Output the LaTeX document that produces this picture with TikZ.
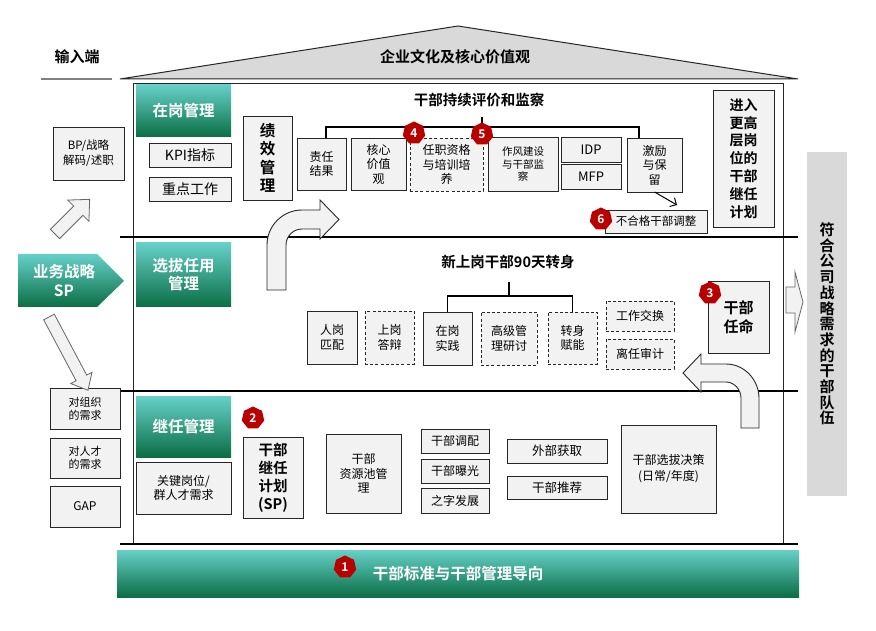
\documentclass[tikz,border=0pt]{standalone}
\usepackage{fontspec}
\setmainfont{Noto Sans CJK SC}[BoldFont={Noto Sans CJK SC Bold}]
\usetikzlibrary{shapes.geometric,arrows.meta,calc}
\definecolor{boxgray}{HTML}{F2F2F2}
\definecolor{roofgray}{HTML}{D9D9D9}
\definecolor{tealtop}{HTML}{66D0C8}
\definecolor{tealbot}{HTML}{0B6E45}
\definecolor{badgered}{HTML}{B80000}
\definecolor{linedark}{HTML}{262626}
\newcommand\myfs[2]{\fontsize{#1}{#2}\selectfont}
\newcommand\bx[7][]{%
  \pgfmathsetmacro\myX{(#3+#5)/2}%
  \pgfmathsetmacro\myY{(#4+#6)/2}%
  \pgfmathsetmacro\myW{#5-#3}%
  \pgfmathsetmacro\myH{#6-#4}%
  \node[gbox,#1,minimum width=\myW pt,minimum height=\myH pt] (#2) at (\myX,\myY) {#7};}
\tikzset{
  gbox/.style={draw=linedark, fill=boxgray, line width=0.9pt, inner sep=0pt, outer sep=0pt, align=center, font=\myfs{12}{14.5}},
  dbox/.style={dashed, dash pattern=on 3pt off 2.2pt},
  hdr/.style={draw=none, top color=tealtop, bottom color=tealbot, text=white, font=\bfseries\myfs{15.5}{18}},
  badge/.style={regular polygon, regular polygon sides=7, fill=badgered, draw=none, text=white, font=\bfseries\myfs{12}{12}, minimum size=23pt, inner sep=0pt},
  sep/.style={line width=2.4pt, black},
  brk/.style={line width=1.5pt, black},
  harrow/.style={draw=linedark, fill=boxgray, line width=0.9pt, line join=miter},
  larrow/.style={draw=gray!80!black, fill=boxgray, line width=0.8pt, line join=miter},
  ttl/.style={font=\bfseries\myfs{14.5}{17}, inner sep=0pt}
}
\begin{document}
\begin{tikzpicture}[x=1pt,y=-1pt]
\useasboundingbox[fill=white] (0,0) rectangle (876,631);

% roof
\draw[fill=roofgray, draw=linedark, line width=1pt] (120,79) -- (458,26) -- (798,79) -- cycle;
\node[ttl, font=\bfseries\myfs{15}{17}] (roof) at (455,57) {企业文化及核心价值观};
\node[ttl, font=\bfseries\myfs{15}{17}] (inp) at (77,57) {输入端};
\draw[line width=2.5pt, gray] (41,79) -- (112,79);

% frame and separators
\draw[line width=1pt, linedark] (133,84) rectangle (783,544);
\draw[sep] (120,237) -- (798,237);
\draw[sep] (120,391) -- (798,391);
\draw[sep] (120,544) -- (798,544);

% headers
\bx[hdr]{h1}{136}{85}{231}{137}{在岗管理}
\bx[hdr]{h2}{136}{243}{231}{307}{选拔任用\\管理}
\bx[hdr]{h3}{136}{396}{231}{457}{继任管理}
\bx[hdr, font=\bfseries\myfs{15.5}{18}]{bar}{117}{550}{799}{597}{干部标准与干部管理导向}
\shade[top color=tealtop, bottom color=tealbot] (18,254) -- (97,254) -- (124,281) -- (97,307) -- (18,307) -- cycle;
\node[text=white, font=\bfseries\myfs{15.5}{19}, align=center, inner sep=0pt] (sp) at (64,281) {业务战略\\SP};

% left column
\bx[font=\myfs{11.5}{15}]{bp}{53}{127}{124}{180}{BP/战略\\解码/述职}
\bx[font=\myfs{11}{13}]{dzz}{50}{388}{120}{429}{对组织\\的需求}
\bx[font=\myfs{11}{13}]{drc}{50}{438}{120}{478}{对人才\\的需求}
\bx{gap}{50}{486}{120}{527}{GAP}
\begin{scope}[shift={(55,234)}, rotate=45]
  \draw[larrow] (0,-6.5) -- (33,-6.5) -- (33,-15) -- (49,0) -- (33,15) -- (33,6.5) -- (0,6.5) -- cycle;
\end{scope}
\begin{scope}[shift={(49,317)}, rotate=-62]
  \draw[larrow] (0,-6) -- (69,-6) -- (69,-12) -- (83,0) -- (69,12) -- (69,6) -- (0,6) -- cycle;
\end{scope}

% row 1
\bx[font=\myfs{14}{16}]{kpi}{149}{143}{231}{167}{KPI指标}
\bx[font=\myfs{14}{16}]{zd}{149}{177}{231}{201}{重点工作}
\bx[font=\bfseries\myfs{15.5}{18.5}]{jx}{243}{116}{292}{200}{绩\\效\\管\\理}
\node[ttl] (t1) at (479,100) {干部持续评价和监察};
\bx[font=\myfs{12}{13.5}]{zr}{297}{138}{346}{190}{责任\\结果}
\bx{hx}{351}{138}{406}{190}{核心\\价值\\观}
\bx[dbox]{rz}{410}{138}{483}{191}{任职资格\\与培训培\\养}
\bx[font=\myfs{10.5}{12.5}]{zf}{488}{137}{558}{191}{作风建设\\与干部监\\察}
\bx[font=\myfs{13}{15}]{idp}{561}{137}{621}{162}{IDP}
\bx[font=\myfs{13}{15}]{mfp}{561}{164}{621}{189}{MFP}
\bx{jl}{627}{138}{682}{192}{激励\\与保\\留}
\bx[font=\myfs{11.5}{13}]{bhg}{605}{210}{707}{233}{不合格干部调整}
\bx[font=\bfseries\myfs{14}{17.8}]{jr}{713}{90}{774}{227}{进入\\更高\\层岗\\位的\\干部\\继任\\计划}
\coordinate (s1) at (482,117);
\coordinate (m1) at (482,127);
\draw[brk] (s1) -- (m1);
\draw[brk] ([xshift=4.5pt]zr.north) |- (m1) -| ([xshift=-15.5pt]jl.north);
\coordinate (ae) at (677,205);
\draw[line width=1pt, -{Straight Barb[length=5pt,width=10pt]}] (jl.south) -- (ae);

% row 2
\node[ttl] (t2) at (508,262) {新上岗干部90天转身};
\bx{rg}{307}{311}{357}{364}{人岗\\匹配}
\bx[dbox]{sg}{365}{311}{414}{364}{上岗\\答辩}
\bx{zg}{423}{312}{472}{365}{在岗\\实践}
\bx[dbox]{gj}{481}{312}{537}{365}{高级管\\理研讨}
\bx[dbox]{zs}{548}{312}{597}{364}{转身\\赋能}
\bx[dbox]{gz}{606}{301}{674}{331}{工作交换}
\bx[dbox]{lr}{606}{339}{674}{369}{离任审计}
\bx[font=\bfseries\myfs{15}{18.5}]{rm}{708}{281}{769}{353}{干部\\任命}
\coordinate (s2) at (509,282);
\coordinate (m2) at (509,296);
\draw[brk] (s2) -- (m2);
\draw[brk] (zg.north) |- (m2) -| (zs.north);

% row 3
\bx{gjg}{136}{462}{231}{514}{关键岗位/\\群人才需求}
\bx[font=\bfseries\myfs{14.5}{18}]{jrjh}{243}{437}{303}{518}{干部\\继任\\计划\\(SP)}
\bx{zyc}{326}{434}{401}{513}{干部\\资源池管\\理}
\bx{tp}{421}{429}{489}{453}{干部调配}
\bx{bg}{421}{459}{489}{483}{干部曝光}
\bx{zzf}{421}{488}{489}{513}{之字发展}
\bx[font=\myfs{12.5}{15}]{wb}{507}{439}{607}{463}{外部获取}
\bx[font=\myfs{12.5}{15}]{tj}{507}{476}{607}{499}{干部推荐}
\bx[font=\myfs{12}{16}]{xb}{621}{425}{716}{513}{干部选拔决策\\(日常/年度)}

% curved hollow arrows
\draw[harrow] (267,290) -- (267,245) .. controls (267,225.7) and (282.7,210) .. (302,210) -- (320,210) -- (320,200) -- (339,219.5) -- (320,239) -- (320,229) -- (302,229) .. controls (293.2,229) and (286,236.2) .. (286,245) -- (286,290) -- cycle;
\draw[harrow] (759,428) -- (759,398) .. controls (759,380.8) and (745.2,364) .. (726,364) -- (701,364) -- (701,354) -- (683,373) -- (701,392) -- (701,382) -- (726,382) .. controls (734.3,382) and (741,389.7) .. (741,398) -- (741,428) -- cycle;

% right side
\draw[draw=gray!80!black, fill=boxgray, line width=0.8pt] (786,287) -- (795,287) -- (795,272) -- (803,302) -- (795,332) -- (795,313) -- (786,313) -- cycle;
\node[fill=roofgray, minimum width=40pt, minimum height=344pt, inner sep=0pt, align=center, font=\bfseries\myfs{15}{15.7}] (rbar) at (827,324) {符\\合\\公\\司\\战\\略\\需\\求\\的\\干\\部\\队\\伍};

% badges
\node[badge] (n1) at (345,567) {1};
\node[badge] (n2) at (253,418) {2};
\node[badge] (n3) at (710,293) {3};
\node[badge] (n4) at (414,133) {4};
\node[badge] (n5) at (482,134) {5};
\node[badge] (n6) at (601,219) {6};
\end{tikzpicture}
\end{document}
